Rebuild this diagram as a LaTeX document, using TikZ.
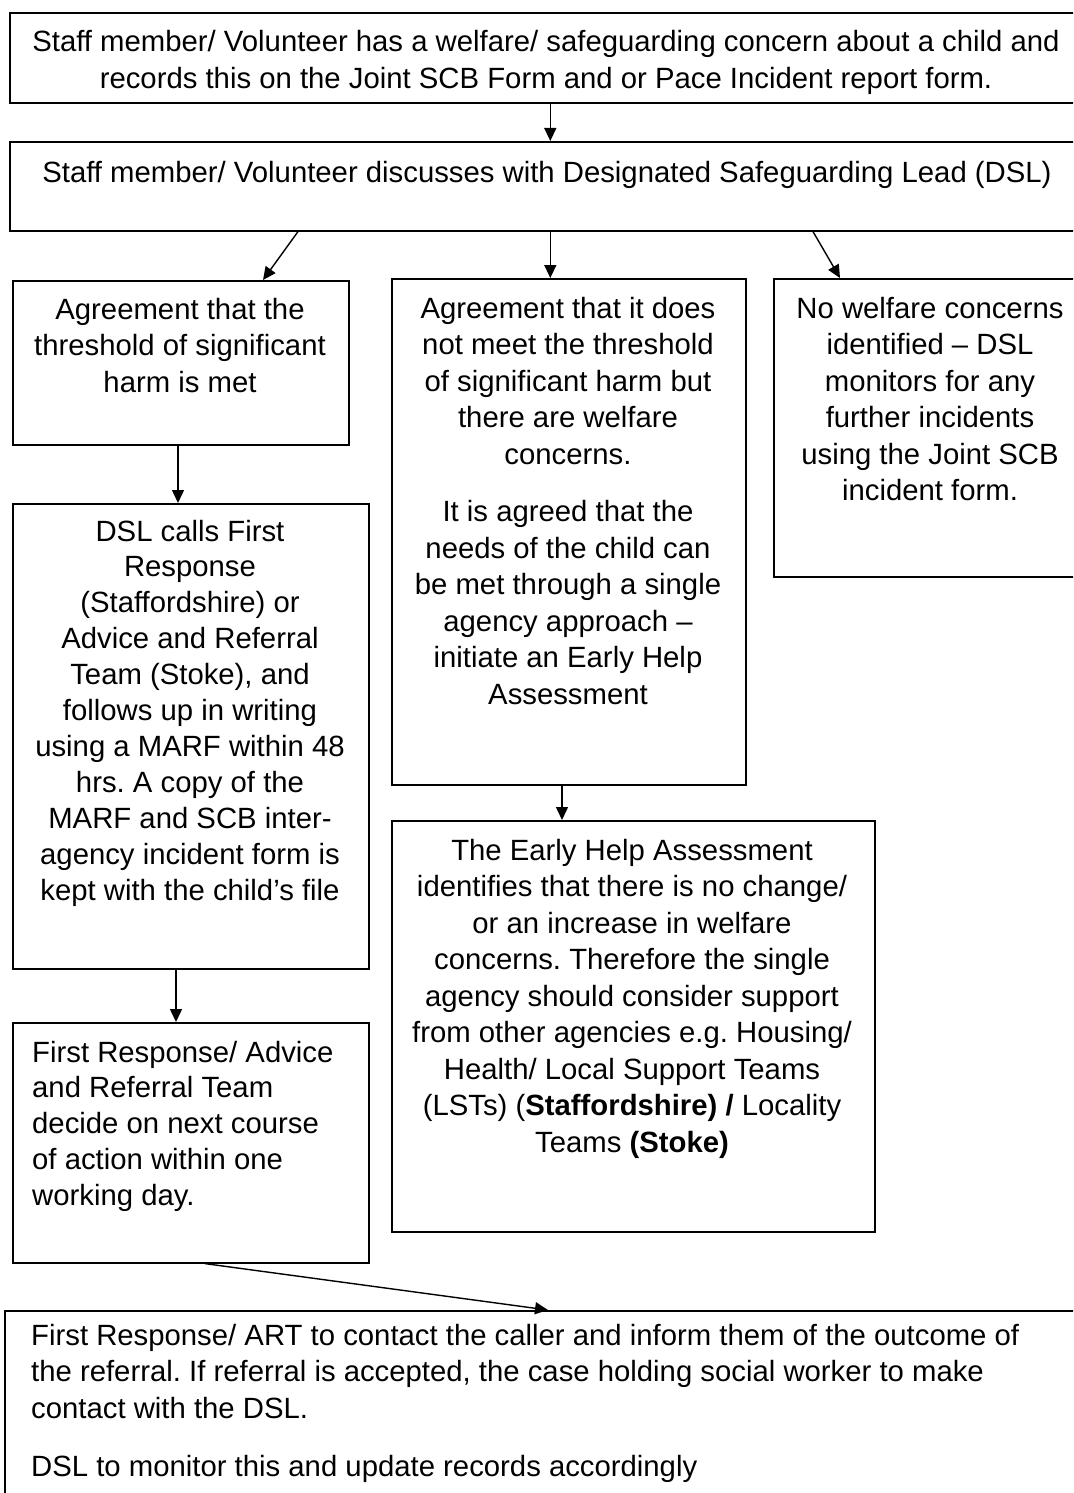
\documentclass[tikz,border=0pt]{standalone}
\usepackage{fontspec}
\setmainfont{Liberation Sans}
\usetikzlibrary{arrows.meta}
\begin{document}
\frenchspacing
\begin{tikzpicture}[x=1pt,y=-1pt,
  box/.style={draw, line width=1.6pt, inner sep=0pt, anchor=north west},
  txt/.style={inner sep=0pt, anchor=base, font=\fontsize{29.3}{36.5}\selectfont},
  ltxt/.style={txt, anchor=base west},
  arr/.style={line width=1.4pt, -{Triangle[length=13pt,width=12pt]}}]
\clip (0,0) rectangle (1073,1493);
% boxes
\node[box, minimum width=1081pt, minimum height=90pt] (b1) at (9,12) {};
\node[box, minimum width=1081pt, minimum height=89pt] (b2) at (9,141) {};
\node[box, minimum width=336pt, minimum height=164pt] (b3) at (12,280) {};
\node[box, minimum width=354pt, minimum height=506pt] (b4) at (391,278) {};
\node[box, minimum width=317pt, minimum height=298pt] (b5) at (773,278) {};
\node[box, minimum width=356pt, minimum height=465pt] (b6) at (12,503) {};
\node[box, minimum width=356pt, minimum height=240pt] (b7) at (12,1022) {};
\node[box, minimum width=483pt, minimum height=411pt] (b8) at (391,820) {};
\node[box, minimum width=1086pt, minimum height=200pt] (b9) at (4,1310) {};
% texts
\node[txt] (t1) at (546,52) {\parbox[t]{1060pt}{\centering
Staff member/ Volunteer has a welfare/ safeguarding concern about a child and\\
records this on the Joint SCB Form and or Pace Incident report form.}};
\node[txt] (t2) at (547,182) {\parbox[t]{1060pt}{\centering
Staff member/ Volunteer discusses with Designated Safeguarding Lead (DSL)}};
\node[txt] (t3) at (180,319) {\parbox[t]{600pt}{\centering
Agreement that the\\
threshold of significant\\
harm is met}};
\node[txt] (t4) at (568,318) {\parbox[t]{600pt}{\centering
Agreement that it does\\
not meet the threshold\\
of significant harm but\\
there are welfare\\
concerns.\\[21pt]
It is agreed that the\\
needs of the child can\\
be met through a single\\
agency approach –\\
initiate an Early Help\\
Assessment}};
\node[txt] (t5) at (930,318) {\parbox[t]{600pt}{\centering
No welfare concerns\\
identified – DSL\\
monitors for any\\
further incidents\\
using the Joint SCB\\
incident form.}};
\node[txt] (t6) at (190,541) {\parbox[t]{600pt}{\centering\fontsize{29.3}{35.9}\selectfont
DSL calls First\\
Response\\
(Staffordshire) or\\
Advice and Referral\\
Team (Stoke), and\\
follows up in writing\\
using a MARF within 48\\
hrs. A copy of the\\
MARF and SCB inter-\\
agency incident form is\\
kept with the child’s file}};
\node[ltxt] (t7) at (32,1062) {\parbox[t]{600pt}{\raggedright\fontsize{29.3}{35.8}\selectfont
First Response/ Advice\\
and Referral Team\\
decide on next course\\
of action within one\\
working day.}};
\node[txt] (t8) at (632,860) {\parbox[t]{700pt}{\centering
The Early Help Assessment\\
identifies that there is no change/\\
or an increase in welfare\\
concerns. Therefore the single\\
agency should consider support\\
from other agencies e.g. Housing/\\
Health/ Local Support Teams\\
(LSTs) (\textbf{Staffordshire) /} Locality\\
Teams \textbf{(Stoke)}}};
\node[ltxt] (t9) at (31,1345) {\parbox[t]{1060pt}{\raggedright
First Response/ ART to contact the caller and inform them of the outcome of\\
the referral. If referral is accepted, the case holding social worker to make\\
contact with the DSL.\\[22pt]
DSL to monitor this and update records accordingly}};
% connectors
\draw[arr] (b1.south) -- (b2.north);
\draw[arr] ([xshift=289pt]b2.south west) -- ([xshift=251pt]b3.north west);
\draw[arr] (b2.south) -- (b2.south |- b4.north);
\draw[arr] ([xshift=804pt]b2.south west) -- ([xshift=67pt]b5.north west);
\draw[arr] ([xshift=166pt]b3.south west) -- ([xshift=166pt]b6.north west);
\draw[arr] ([xshift=164pt]b6.south west) -- ([xshift=164pt]b7.north west);
\draw[arr] ([xshift=171pt]b4.south west) -- ([xshift=171pt]b8.north west);
\draw[arr] ([xshift=193pt]b7.south west) -- ([xshift=544pt]b9.north west);
\end{tikzpicture}
\end{document}
